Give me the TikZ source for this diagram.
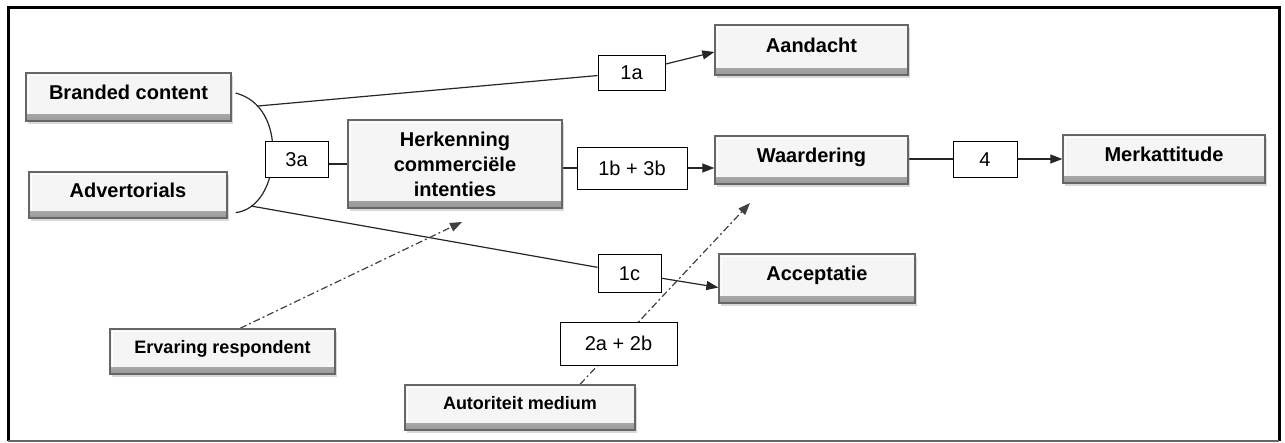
\documentclass[tikz,border=0pt]{standalone}
\usepackage{fontspec}
\setmainfont{Liberation Sans}
\usetikzlibrary{arrows.meta,shadows,calc}
\pgfdeclarelayer{bg}
\pgfsetlayers{bg,main}
\begin{document}
\begin{tikzpicture}[x=1pt,y=-1pt,
  bevel/.style={draw=black!60, line width=1.3pt, fill=black!4, inner sep=0pt,
    drop shadow={shadow xshift=1.5pt, shadow yshift=-3pt, opacity=0.3},
    path picture={
      \shade[top color=black!4, bottom color=black!40]
        ([yshift=7pt]path picture bounding box.south west) rectangle (path picture bounding box.south east);
      \draw[white, line width=1.5pt]
        ([xshift=2.5pt,yshift=7pt]path picture bounding box.south west)
        -- ([xshift=2.5pt,yshift=-2.5pt]path picture bounding box.north west)
        -- ([xshift=-2.5pt,yshift=-2.5pt]path picture bounding box.north east);
    }},
  box/.style={bevel, font=\fontsize{20}{24}\selectfont\bfseries, text height=11pt, text depth=7pt},
  sbox/.style={bevel, font=\fontsize{18}{22}\selectfont\bfseries, text height=10pt, text depth=6pt},
  lab/.style={draw=black, line width=1pt, fill=white, inner sep=0pt,
    font=\fontsize{20}{24}\selectfont, text height=14.3pt, text depth=0pt},
  con/.style={line width=1.2pt, black!85},
  arr/.style={con, -{Triangle[length=12pt,width=9pt]}},
  dd/.style={line width=1.2pt, black!75, dash pattern=on 7pt off 3pt on 2pt off 3pt,
    -{Triangle[length=12pt,width=9pt]}}]
\useasboundingbox (0,0) rectangle (1285,442);

% frame
\draw[line width=3pt] (8,441) -- (8,7) -- (1279,7) -- (1279,441);
\draw[black!60, line width=1.5pt] (8,441) -- (1279,441);

% boxes
\node[box, minimum width=205pt, minimum height=48pt] (bc) at (128.5,97) {Branded content};
\node[box, minimum width=198pt, minimum height=46pt] (adv) at (128,195) {Advertorials};
\node[bevel, minimum width=214pt, minimum height=88pt, align=center,
      font=\fontsize{20}{25}\selectfont\bfseries] (herk) at (455,164)
      {Herkenning\\commerciële\\intenties};
\node[box, minimum width=193pt, minimum height=50pt] (aand) at (811.5,50) {Aandacht};
\node[box, minimum width=193pt, minimum height=48pt] (waard) at (811.5,160) {Waardering};
\node[box, minimum width=202pt, minimum height=48pt] (merk) at (1164,159) {Merkattitude};
\node[box, minimum width=196pt, minimum height=49pt] (acc) at (817,278.5) {Acceptatie};
\node[sbox, minimum width=225pt, minimum height=45pt] (erv) at (222.5,351.5) {Ervaring respondent};
\node[sbox, minimum width=230pt, minimum height=45pt] (aut) at (520,407.5) {Autoriteit medium};

% labels
\node[lab, minimum width=63pt, minimum height=36pt] (l3a) at (296.5,159) {3a};
\node[lab, minimum width=67pt, minimum height=35pt] (l1a) at (631.5,72.5) {1a};
\node[lab, minimum width=110pt, minimum height=42pt] (l1b) at (632,168) {1b + 3b};
\node[lab, minimum width=64pt, minimum height=36pt] (l4) at (985,159) {4};
\node[lab, minimum width=63pt, minimum height=38pt] (l1c) at (629.5,273) {1c};
\node[lab, minimum width=117pt, minimum height=43pt] (l2) at (618.5,343.5) {2a + 2b};

% connectors
\begin{pgfonlayer}{bg}
\coordinate (jt) at (258,106);
\coordinate (jb) at (251,206);
\coordinate (herkTip) at (462,222);
\coordinate (waardTip) at (750,203);
\draw[con] ($(bc.east)+(4,-4)$) .. controls (262,100) and (273,125) .. (273,152)
  .. controls (273,185) and (258,210) .. ($(adv.south east)+(8,-6)$);
\draw[con] (jt) -- (l1a);
\draw[arr] (l1a) -- ($(aand.west)+(0,2)$);
\draw[con] (jb) -- (l1c);
\draw[arr] (l1c) -- ($(acc.west)+(0,9)$);
\draw[con] (herk.west -| l3a.east) -- (herk.west);
\draw[con] (herk.east |- l1b) -- (l1b.west);
\draw[arr] (l1b.east) -- (waard.west |- l1b.east);
\draw[con] (waard.east |- l4) -- (l4.west);
\draw[arr] (l4.east) -- (merk.west |- l4.east);
\draw[dd] ([xshift=17.5pt]erv.north) -- (herkTip);
\draw[dd] ([xshift=60pt]aut.north) -- (waardTip);
\end{pgfonlayer}
\end{tikzpicture}
\end{document}
